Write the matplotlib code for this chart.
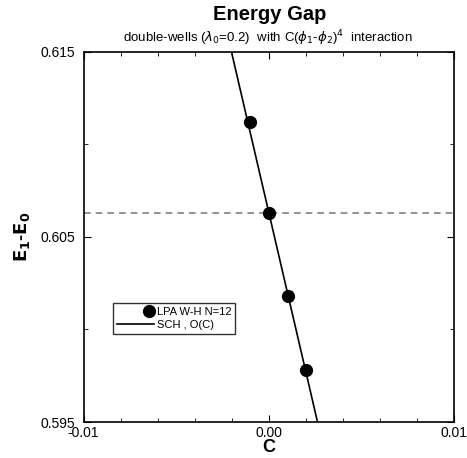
import matplotlib.pyplot as plt
from matplotlib.ticker import MultipleLocator
from matplotlib.legend_handler import HandlerLine2D

plt.rcParams['font.family'] = ['Liberation Sans', 'DejaVu Sans']

# LPA W-H N=12 data points
c_lpa = [-0.001, 0.0, 0.001, 0.002]
gap_lpa = [0.6112, 0.6063, 0.6018, 0.5978]

# SCH, O(C) straight line
c_sch = [-0.002, 0.00264]
gap_sch = [0.6149, 0.5949]

# reference level (C = 0)
gap_ref = 0.6063


class RightMarker(HandlerLine2D):
    # marker sits at the right end of the handle area, next to the text
    def get_xdata(self, legend, xdescent, ydescent, width, height, fontsize):
        c = -xdescent + width - 3.0
        return [c - 1, c + 1], [c]


fig = plt.figure(figsize=(4.67, 4.58), dpi=100)
ax = fig.add_axes([0.179, 0.0786, 0.794, 0.808])

ax.axhline(gap_ref, color='gray', linestyle='--', linewidth=1.2, dashes=(4, 3))
sch, = ax.plot(c_sch, gap_sch, color='black', linewidth=1.2)
lpa, = ax.plot(c_lpa, gap_lpa, 'o', color='black', markersize=8.5)

ax.set_xlim(-0.01, 0.01)
ax.set_ylim(0.595, 0.615)
ax.set_xticks([-0.01, 0.0, 0.01])
ax.set_xticklabels(['-0.01', '0.00', '0.01'])
ax.set_yticks([0.595, 0.605, 0.615])
ax.set_yticklabels(['0.595', '0.605', '0.615'])
ax.xaxis.set_minor_locator(MultipleLocator(0.002))
ax.yaxis.set_minor_locator(MultipleLocator(0.005))
ax.tick_params(which='both', direction='in', top=True, right=True, labelsize=10)
ax.tick_params(axis='x', pad=3)
ax.tick_params(axis='y', pad=6)
ax.tick_params(which='major', length=5)
ax.tick_params(which='minor', length=3)
for s in ax.spines.values():
    s.set_linewidth(1.2)

ax.set_xlabel('C', fontsize=13, fontweight='bold', labelpad=-1)
ax.set_ylabel(r'$\mathbf{E_1}$-$\mathbf{E_0}$', fontsize=13, fontweight='bold', labelpad=6)

leg = ax.legend([lpa, sch], ['LPA W-H N=12', 'SCH , O(C)'], loc='upper left',
                bbox_to_anchor=(0.0795, 0.3216), borderaxespad=0, fontsize=8,
                frameon=True, fancybox=False, handlelength=3.3, handletextpad=0.3,
                borderpad=0.35, labelspacing=0.3, numpoints=1,
                handler_map={lpa: RightMarker()})
leg.get_frame().set_edgecolor('black')
leg.get_frame().set_linewidth(1.0)

fig.text(0.578, 0.968, 'Energy Gap', ha='center', va='center', fontsize=14.5, fontweight='bold')
fig.text(0.574, 0.917, r'double-wells ($\lambda_0$=0.2)  with C($\phi_1$-$\phi_2$)$^4$  interaction',
         ha='center', va='center', fontsize=9.5)

fig.savefig('out.png', dpi=100)
